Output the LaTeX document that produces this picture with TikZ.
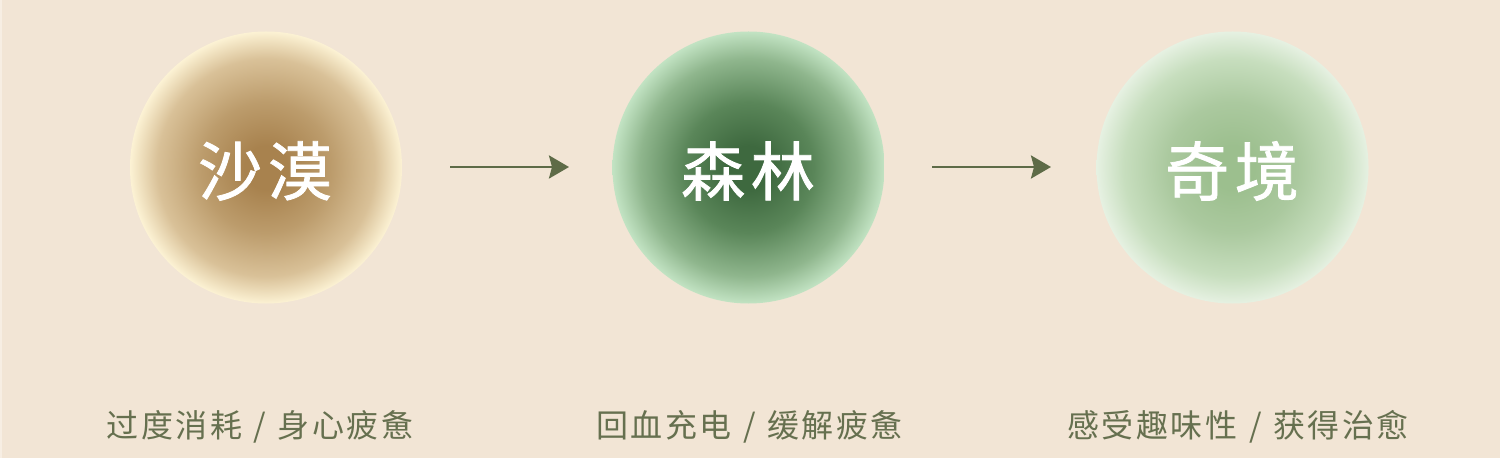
\documentclass[tikz,border=0pt]{standalone}
\usepackage{fontspec}
\usetikzlibrary{arrows.meta}
\newfontfamily\cjktitle[LetterSpace=9,FakeBold=1.2]{Noto Sans CJK SC}
\newfontfamily\cjklabel[LetterSpace=8]{Noto Sans CJK SC}
\newcommand{\slashsep}{\hspace{0.36em}/\hspace{0.36em}}
\definecolor{bgc}{HTML}{F2E5D5}
\definecolor{edgec}{HTML}{F7EEE3}
\definecolor{arrowc}{HTML}{5E6B47}
\definecolor{labelc}{HTML}{66704F}
\definecolor{sandA}{HTML}{A8824E}
\definecolor{sandB}{HTML}{BC9C6C}
\definecolor{sandC}{HTML}{D9C198}
\definecolor{sandD}{HTML}{FCF2D4}
\definecolor{forA}{HTML}{3E693F}
\definecolor{forB}{HTML}{5A8659}
\definecolor{forC}{HTML}{8FB68D}
\definecolor{forD}{HTML}{C2E3C3}
\definecolor{wonA}{HTML}{9CBF8E}
\definecolor{wonB}{HTML}{ABC99F}
\definecolor{wonC}{HTML}{C7DEBE}
\definecolor{wonD}{HTML}{E6F1E2}
\pgfdeclareradialshading{sandshade}{\pgfpoint{0bp}{0bp}}{color(0bp)=(sandA); color(4bp)=(sandA); color(12bp)=(sandB); color(20bp)=(sandC); color(25bp)=(sandD); color(50bp)=(sandD)}
\pgfdeclareradialshading{forestshade}{\pgfpoint{0bp}{0bp}}{color(0bp)=(forA); color(4bp)=(forA); color(12bp)=(forB); color(20bp)=(forC); color(25bp)=(forD); color(50bp)=(forD)}
\pgfdeclareradialshading{wondershade}{\pgfpoint{0bp}{0bp}}{color(0bp)=(wonA); color(4bp)=(wonA); color(12bp)=(wonB); color(20bp)=(wonC); color(25bp)=(wonD); color(50bp)=(wonD)}
\tikzset{
  ball/.style={circle, minimum size=272bp, inner sep=0pt},
  title/.style={text=white, inner sep=0pt,
    font=\cjktitle\fontsize{64bp}{70bp}\selectfont},
  caption/.style={text=labelc, inner sep=0pt,
    font=\cjklabel\fontsize{32bp}{38bp}\selectfont},
  flow/.style={draw=arrowc, line width=2.7bp,
    -{Stealth[length=20bp,width=23bp,inset=3bp]}}
}
\begin{document}
\begin{tikzpicture}[x=1bp,y=-1bp]
\fill[bgc] (0,0) rectangle (1500,458);
\useasboundingbox (0,0) rectangle (1500,458);
\draw[edgec, line width=1.5bp] (0.75,0) -- (0.75,458);
\node[ball, shading=sandshade] (desert) at (266,167.5) {};
\node[ball, shading=forestshade] (forest) at (748.5,167.5) {};
\node[ball, shading=wondershade] (wonder) at (1232.5,167.5) {};
\node[title] (t1) at (265,171) {沙漠};
\node[title] (t2) at (748,171) {森林};
\node[title] (t3) at (1232,171) {奇境};
\coordinate (a1s) at (450,167);
\coordinate (a1e) at (569,167);
\coordinate (a2s) at (932,167);
\coordinate (a2e) at (1051,167);
\draw[flow] (a1s) -- (a1e);
\draw[flow] (a2s) -- (a2e);
\node[caption] (c1) at (260,427) {过度消耗\slashsep 身心疲惫};
\node[caption] (c2) at (749.5,427) {回血充电\slashsep 缓解疲惫};
\node[caption] (c3) at (1238,427) {感受趣味性\slashsep 获得治愈};
\end{tikzpicture}
\end{document}
